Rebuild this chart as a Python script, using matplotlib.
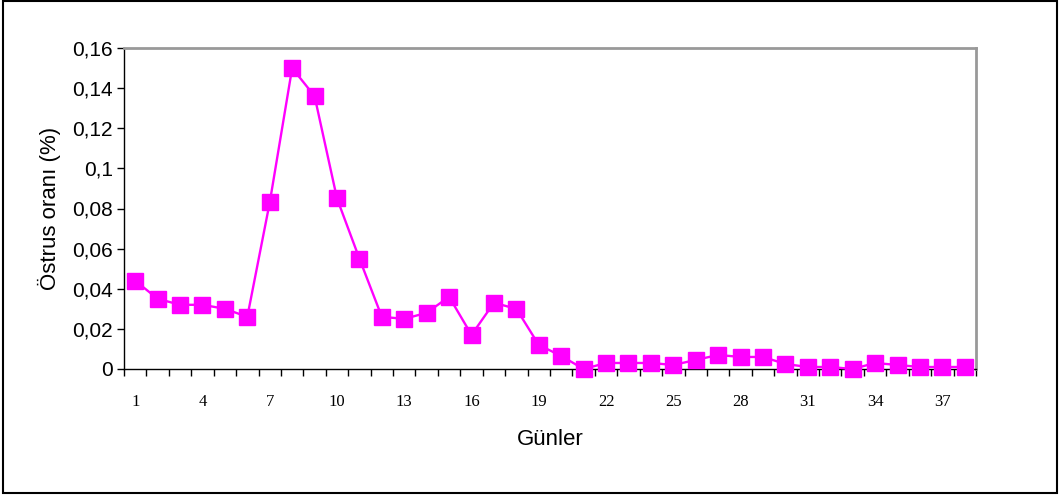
import numpy as np
import matplotlib.pyplot as plt
from matplotlib.patches import Rectangle
from matplotlib.ticker import FixedLocator

days = list(range(1, 39))
rate = [0.044, 0.035, 0.032, 0.032, 0.030, 0.026, 0.083, 0.150, 0.136, 0.085,
        0.055, 0.026, 0.025, 0.028, 0.036, 0.017, 0.033, 0.030, 0.012, 0.0065,
        0.0, 0.003, 0.003, 0.003, 0.002, 0.0045, 0.007, 0.006, 0.006, 0.0025,
        0.001, 0.001, 0.0, 0.003, 0.002, 0.001, 0.001, 0.001]
yticks = [0, 0.02, 0.04, 0.06, 0.08, 0.1, 0.12, 0.14, 0.16]
ytick_labels = ["0", "0,02", "0,04", "0,06", "0,08", "0,1", "0,12", "0,14", "0,16"]
xtick_days = [d for d in days if (d - 1) % 3 == 0]

SANS = ["Liberation Sans Narrow", "Liberation Sans", "DejaVu Sans"]
SERIF = ["Liberation Serif", "DejaVu Serif"]

fig = plt.figure(figsize=(10.6, 4.97), dpi=100)
ax = fig.add_axes([124 / 1060, 1 - 369 / 497, 852 / 1060, 321 / 497])

ax.plot(days, rate, color="#FF00FF", lw=1.7, marker="s", ms=11,
        markeredgecolor="#FF00FF", clip_on=False, zorder=3)

ax.set_xlim(0.5, 38.5)
ax.set_ylim(0, 0.16)
ax.set_yticks(yticks)
ax.set_yticklabels(ytick_labels, family=SANS, fontsize=15)
ax.xaxis.set_major_locator(FixedLocator(xtick_days))
ax.xaxis.set_minor_locator(FixedLocator(np.arange(0.5, 39, 1.0)))
ax.set_xticklabels([str(d) for d in xtick_days], family=SERIF, fontsize=12)
ax.tick_params(axis="x", which="major", length=0, pad=18)
ax.tick_params(axis="x", which="minor", length=5, width=1, direction="out")
ax.tick_params(axis="y", length=5, width=1, direction="out", pad=3)

for s in ("top", "right"):
    ax.spines[s].set_color("#999999")
    ax.spines[s].set_linewidth(2)
for s in ("left", "bottom"):
    ax.spines[s].set_color("black")
    ax.spines[s].set_linewidth(1)

ax.set_ylabel("Östrus oranı (%)", family=SANS, fontsize=16, labelpad=8)
ax.set_xlabel("Günler", family=SANS, fontsize=16, labelpad=14)

fig.patches.append(Rectangle((3 / 1060, 4 / 497), 1054 / 1060, 492 / 497,
                             transform=fig.transFigure, fill=False,
                             edgecolor="black", lw=1.5))

fig.savefig("out.png", dpi=100)
